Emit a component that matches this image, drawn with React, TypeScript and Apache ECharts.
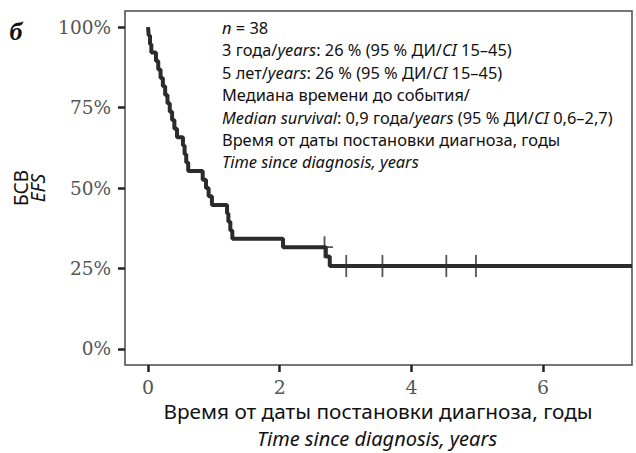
import React, { useEffect, useRef } from 'react';
import * as echarts from 'echarts';

// Kaplan–Meier event-free survival, n = 38 (time in years, survival in %)
const stepTimes = [
  0, 0.01, 0.03, 0.05, 0.12, 0.155, 0.19, 0.225, 0.26, 0.295, 0.33, 0.365, 0.4, 0.44,
  0.53, 0.555, 0.58, 0.61, 0.83, 0.88, 0.92, 0.97, 1.2, 1.22, 1.25, 1.28, 2.05, 2.7, 2.76, 7.35,
];
const stepSurvival = [
  100, 97.4, 94.7, 92.1, 89.5, 86.8, 84.2, 81.6, 78.9, 76.3, 73.7, 71.1, 68.4, 65.8,
  63.2, 60.5, 57.9, 55.3, 52.6, 50.0, 47.4, 44.7, 42.1, 39.5, 36.8, 34.2, 31.6, 28.7, 25.8, 25.8,
];

// Censored observations
const censorTimes = [2.68, 3.01, 3.56, 4.53, 4.98];
const censorSurvival = [31.6, 25.8, 25.8, 25.8, 25.8];

const yTicks = [0, 25, 50, 75, 100];
const xTicks = [0, 2, 4, 6];

const annotationLines = [
  '{i|n}{r| = 38}',
  '{r|3 года/}{i|years}{r|: 26 % (95 % ДИ/}{i|CI}{r| 15–45)}',
  '{r|5 лет/}{i|years}{r|: 26 % (95 % ДИ/}{i|CI}{r| 15–45)}',
  '{r|Медиана времени до события/}',
  '{i|Median survival}{r|: 0,9 года/}{i|years}{r| (95 % ДИ/}{i|CI}{r| 0,6–2,7)}',
  '{r|Время от даты постановки диагноза, годы}',
  '{i|Time since diagnosis, years}',
];

const SANS = '"Noto Sans", "Open Sans", sans-serif';
const SERIF = '"DejaVu Serif", serif';
const INK = '#2b2b2b';

export default function App() {
  const ref = useRef<HTMLDivElement>(null);

  useEffect(() => {
    const chart = echarts.init(ref.current!, null, { renderer: 'svg' });

    // "+" mark for censored cases
    const plus = 'path://M7.6,0h1.8v22h-1.8z M0,10.1h17v1.8h-17z';

    const annFont = 16.4;
    const annRich = {
      r: { fontFamily: SANS, fontSize: annFont, fill: '#111' },
      i: { fontFamily: SANS, fontSize: annFont, fontStyle: 'italic', fill: '#111' },
    };

    const annotation = annotationLines.map((line, k) => ({
      type: 'text',
      x: 222,
      y: 27.5 + k * 22.4,
      style: {
        text: line,
        rich: annRich,
        textAlign: 'left',
        textVerticalAlign: 'middle',
        fill: '#111',
      },
      z: 10,
    }));

    chart.setOption({
      animation: false,
      grid: {
        left: 125,
        right: 4,
        top: 11,
        bottom: 88,
        show: true,
        borderColor: '#4a4a4a',
        borderWidth: 1.5,
        backgroundColor: '#fff',
      },
      xAxis: {
        type: 'value',
        min: -0.35,
        max: 7.35,
        axisLine: { show: false, onZero: false },
        splitLine: { show: false },
        axisTick: {
          show: true,
          customValues: xTicks,
          length: 7,
          lineStyle: { color: '#222', width: 2.5 },
        },
        axisLabel: {
          customValues: xTicks,
          margin: 12,
          color: '#555',
          fontFamily: SERIF,
          fontSize: 19,
        },
      },
      yAxis: {
        type: 'value',
        min: -5,
        max: 105,
        axisLine: { show: false, onZero: false },
        splitLine: { show: false },
        axisTick: {
          show: true,
          customValues: yTicks,
          length: 7,
          lineStyle: { color: '#222', width: 2.5 },
        },
        axisLabel: {
          customValues: yTicks,
          margin: 14,
          color: '#555',
          fontFamily: SERIF,
          fontSize: 18.5,
          formatter: '{value}%',
        },
      },
      series: [
        {
          type: 'line',
          step: 'end',
          data: stepTimes.map((t, i) => [t, stepSurvival[i]]),
          symbol: 'none',
          lineStyle: { color: INK, width: 4 },
          silent: true,
        },
        {
          type: 'scatter',
          data: censorTimes.map((t, i) => [t, censorSurvival[i]]),
          symbol: plus,
          symbolSize: [17, 22],
          itemStyle: { color: INK },
          silent: true,
        },
      ],
      graphic: [
        ...annotation,
        {
          type: 'text',
          x: 16,
          y: 31,
          style: {
            text: 'б',
            font: 'italic bold 26px "Liberation Serif", serif',
            fill: '#111',
            textAlign: 'center',
            textVerticalAlign: 'middle',
          },
        },
        {
          type: 'text',
          x: 21,
          y: 188,
          rotation: Math.PI / 2,
          style: {
            text: 'БСВ',
            font: `19px ${SANS}`,
            fill: '#111',
            textAlign: 'center',
            textVerticalAlign: 'middle',
          },
        },
        {
          type: 'text',
          x: 38,
          y: 188,
          rotation: Math.PI / 2,
          style: {
            text: 'EFS',
            font: `italic 19px ${SANS}`,
            fill: '#111',
            textAlign: 'center',
            textVerticalAlign: 'middle',
          },
        },
        {
          type: 'text',
          x: 378,
          y: 411,
          style: {
            text: 'Время от даты постановки диагноза, годы',
            font: `20.8px ${SANS}`,
            fill: '#111',
            textAlign: 'center',
            textVerticalAlign: 'middle',
          },
        },
        {
          type: 'text',
          x: 377,
          y: 438,
          style: {
            text: 'Time since diagnosis, years',
            font: `italic 20px ${SANS}`,
            fill: '#111',
            textAlign: 'center',
            textVerticalAlign: 'middle',
          },
        },
      ],
    });

    return () => chart.dispose();
  }, []);

  return (
    <div
      ref={ref}
      style={{ position: 'fixed', left: 0, top: 0, width: 636, height: 453, background: '#fff' }}
    />
  );
}
